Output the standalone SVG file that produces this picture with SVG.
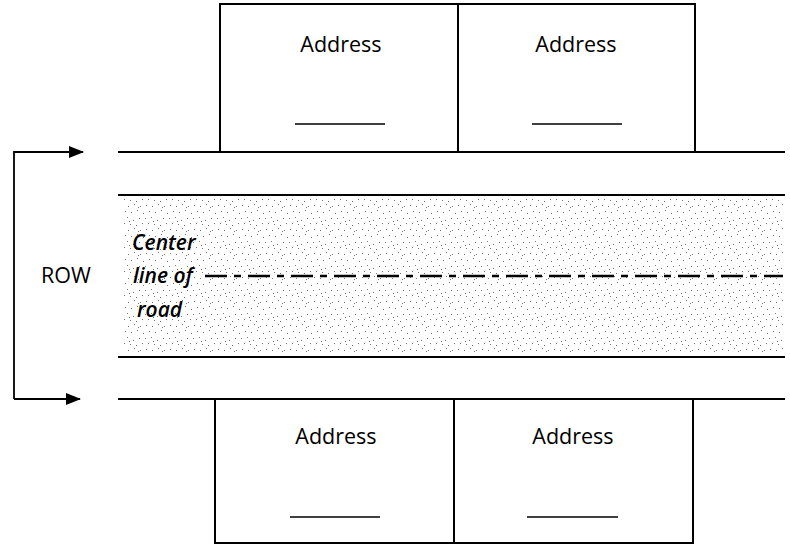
<svg xmlns="http://www.w3.org/2000/svg" width="790" height="545" viewBox="0 0 790 545">
<style>
.box{fill:#fff;stroke:#000;stroke-width:2}
.lbl{font-family:"Open Sans","Liberation Sans",sans-serif;font-size:21.5px;fill:#000;text-anchor:middle}
.ul{stroke:#000;stroke-width:1.5}
.road{stroke:#000;stroke-width:2.2}
.it{font-family:"Open Sans","Liberation Sans",sans-serif;font-size:21px;font-style:italic;font-weight:600;fill:#000}
.conn{fill:none;stroke:#000;stroke-width:1.8}
</style>
<defs>
<pattern id="stip" width="24" height="24" patternUnits="userSpaceOnUse">
<g fill="#777">
<rect x="1" y="2" width="1" height="1"/><rect x="7" y="1" width="1" height="1"/><rect x="13" y="4" width="1" height="1"/><rect x="19" y="2" width="1" height="1"/>
<rect x="4" y="7" width="1" height="1"/><rect x="10" y="8" width="1" height="1"/><rect x="16" y="9" width="1" height="1"/><rect x="22" y="7" width="1" height="1"/>
<rect x="2" y="13" width="1" height="1"/><rect x="8" y="14" width="1" height="1"/><rect x="14" y="12" width="1" height="1"/><rect x="20" y="14" width="1" height="1"/>
<rect x="5" y="19" width="1" height="1"/><rect x="11" y="20" width="1" height="1"/><rect x="17" y="18" width="1" height="1"/><rect x="23" y="21" width="1" height="1"/>
<rect x="9" y="5" width="1" height="1"/><rect x="18" y="15" width="1" height="1"/>
</g>
</pattern>
<marker id="ah" markerWidth="15" markerHeight="12" refX="14" refY="6" orient="auto" markerUnits="userSpaceOnUse">
<path d="M0,0 L15,6 L0,12 Z" fill="#000"/>
</marker>
</defs>

<g id="road">
<rect x="124" y="199" width="659" height="154" fill="url(#stip)"/>
<line class="road" x1="118" y1="152" x2="785" y2="152"/>
<line class="road" x1="118" y1="195" x2="785" y2="195"/>
<line class="road" x1="118" y1="357" x2="785" y2="357"/>
<line class="road" x1="118" y1="399" x2="785" y2="399"/>
<line x1="205" y1="276" x2="783" y2="276" stroke="#000" stroke-width="2.5" stroke-dasharray="22 7 7 7"/>
</g>

<g id="centerline-label">
<text class="it" x="132" y="250">Center</text>
<text class="it" x="133" y="283">line of</text>
<text class="it" x="137" y="317">road</text>
</g>

<g id="addr-top-left">
<rect class="box" x="220" y="4" width="238" height="148"/>
<text class="lbl" x="341" y="52">Address</text>
<line class="ul" x1="295" y1="124" x2="385" y2="124"/>
</g>
<g id="addr-top-right">
<rect class="box" x="458" y="4" width="237" height="148"/>
<text class="lbl" x="576" y="52">Address</text>
<line class="ul" x1="532" y1="124" x2="622" y2="124"/>
</g>
<g id="addr-bottom-left">
<rect class="box" x="215" y="399" width="239" height="144"/>
<text class="lbl" x="336" y="444">Address</text>
<line class="ul" x1="290" y1="517" x2="380" y2="517"/>
</g>
<g id="addr-bottom-right">
<rect class="box" x="454" y="399" width="239" height="144"/>
<text class="lbl" x="573" y="444">Address</text>
<line class="ul" x1="527" y1="517" x2="618" y2="517"/>
</g>

<g id="row-label">
<text class="lbl" x="66" y="283">ROW</text>
</g>

<g id="connectors">
<path class="conn" d="M14,399 L14,152 L83,152" marker-end="url(#ah)"/>
<path class="conn" d="M14,399 L80,399" marker-end="url(#ah)"/>
</g>
</svg>
